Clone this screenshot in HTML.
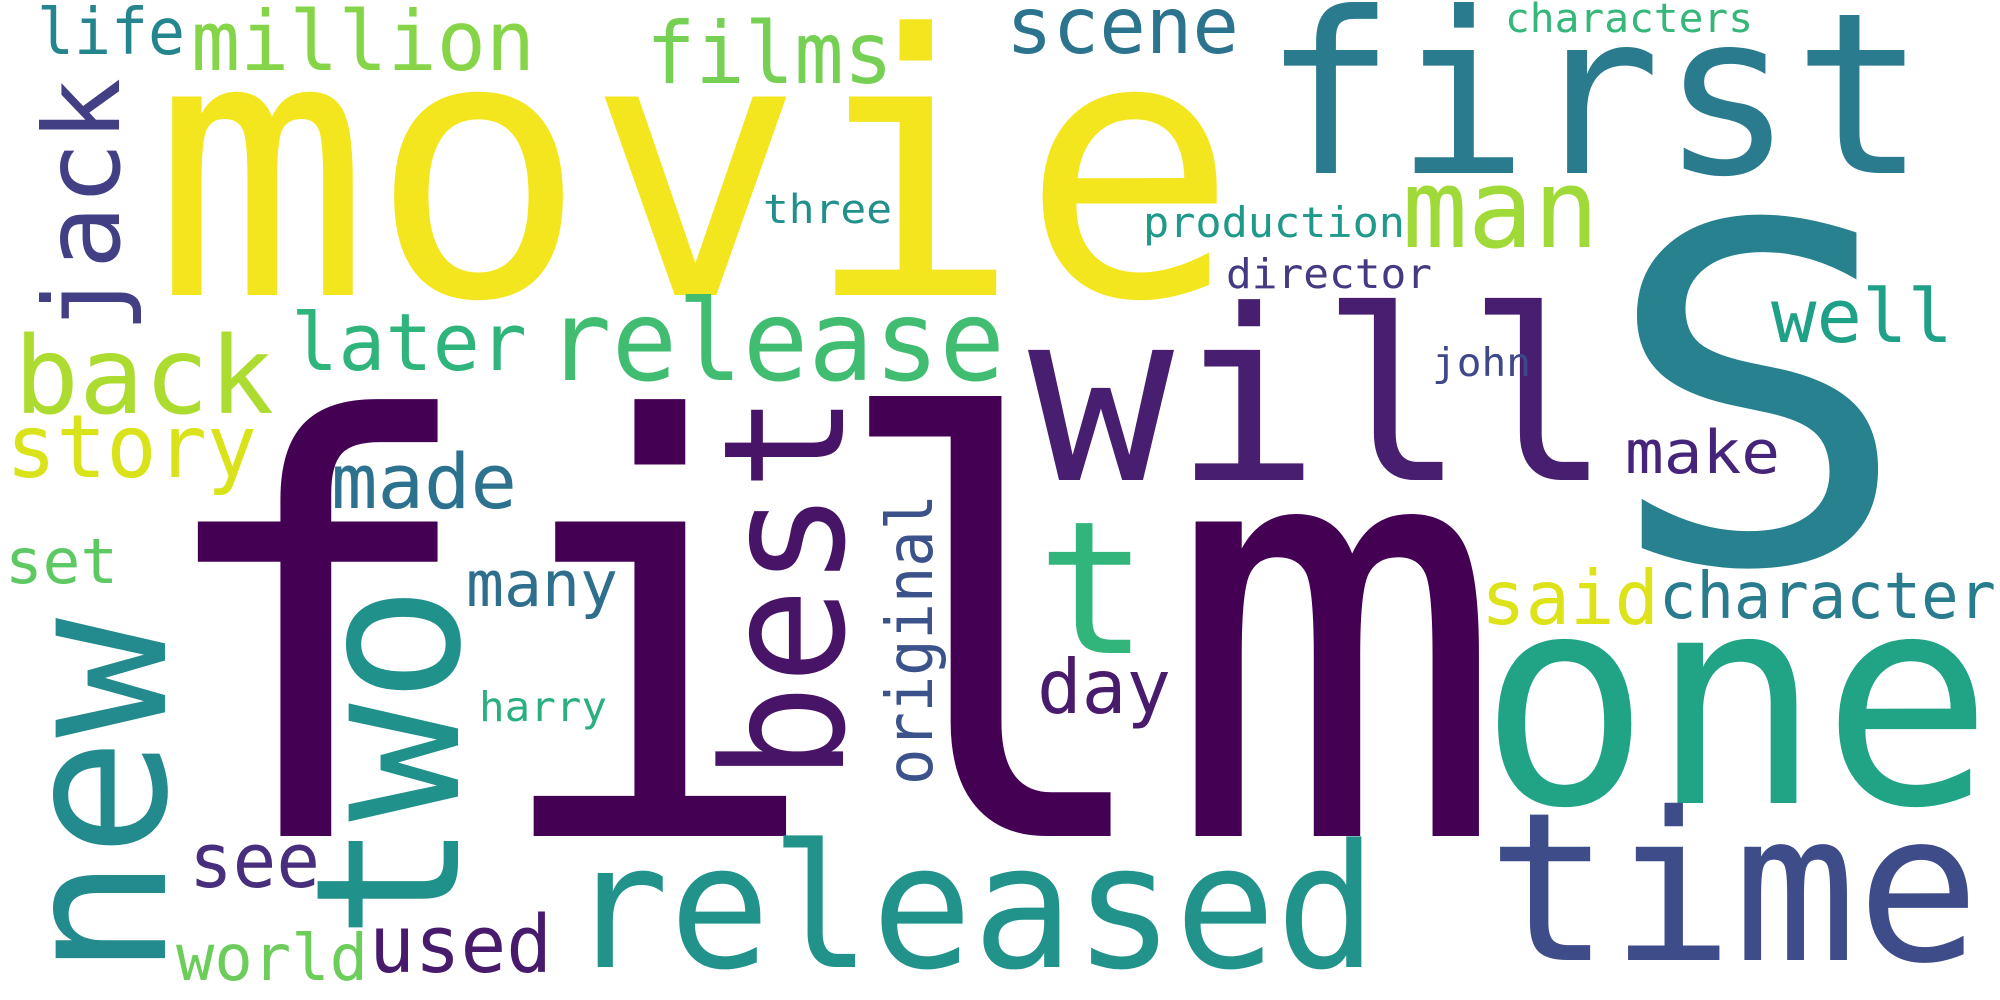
<!DOCTYPE html>
<html><head><meta charset="utf-8"><style>
html,body{margin:0;padding:0;background:#fff;}
svg{display:block;}
text{font-family:"DejaVu Sans Mono","Liberation Mono",monospace;}
</style></head><body>
<svg width="2000" height="1000" viewBox="0 0 2000 1000" xmlns="http://www.w3.org/2000/svg">
<rect width="2000" height="1000" fill="#ffffff"/>
<text x="144" y="836" font-size="575" fill="#440154" textLength="1362" lengthAdjust="spacingAndGlyphs">film</text>
<text x="153" y="295" font-size="363" fill="#f4e61e" textLength="1085" lengthAdjust="spacingAndGlyphs">movie</text>
<text x="1263" y="173" font-size="225" fill="#2a7b8e" textLength="663" lengthAdjust="spacingAndGlyphs">first</text>
<text x="1602" y="562" font-size="468" fill="#27818e" textLength="310" lengthAdjust="spacingAndGlyphs">S</text>
<text x="1028" y="480" font-size="238" fill="#481f70" textLength="584" lengthAdjust="spacingAndGlyphs">will</text>
<text x="1479" y="803" font-size="293" fill="#21a386" textLength="514" lengthAdjust="spacingAndGlyphs">one</text>
<text x="1487" y="960" font-size="207" fill="#3e4c89" textLength="493" lengthAdjust="spacingAndGlyphs">time</text>
<text x="568" y="967" font-size="172" fill="#21938b" textLength="809" lengthAdjust="spacingAndGlyphs">released</text>
<text x="1037" y="653" font-size="185" fill="#31b57b">t</text>
<text x="546" y="380" font-size="112" fill="#41bd72" textLength="459" lengthAdjust="spacingAndGlyphs">release</text>
<text x="1402" y="247" font-size="110" fill="#a0da39" textLength="197" lengthAdjust="spacingAndGlyphs">man</text>
<text x="14" y="413" font-size="107" fill="#addc30" textLength="260" lengthAdjust="spacingAndGlyphs">back</text>
<text x="6" y="477" font-size="87" fill="#dae319" textLength="251" lengthAdjust="spacingAndGlyphs">story</text>
<text x="37" y="54" font-size="64" fill="#25858e" textLength="148" lengthAdjust="spacingAndGlyphs">life</text>
<text x="191" y="70" font-size="83" fill="#86d549" textLength="344" lengthAdjust="spacingAndGlyphs">million</text>
<text x="646" y="83" font-size="86" fill="#75d054" textLength="247" lengthAdjust="spacingAndGlyphs">films</text>
<text x="291" y="370" font-size="79" fill="#2fb47c" textLength="236" lengthAdjust="spacingAndGlyphs">later</text>
<text x="763" y="223" font-size="40" fill="#21908d" textLength="129" lengthAdjust="spacingAndGlyphs">three</text>
<text x="331" y="508" font-size="76" fill="#2c728e" textLength="186" lengthAdjust="spacingAndGlyphs">made</text>
<text x="1006" y="53" font-size="78" fill="#2c738e" textLength="233" lengthAdjust="spacingAndGlyphs">scene</text>
<text x="1505" y="32" font-size="40" fill="#35b779" textLength="248" lengthAdjust="spacingAndGlyphs">characters</text>
<text x="1143" y="237" font-size="42" fill="#1f998a" textLength="262" lengthAdjust="spacingAndGlyphs">production</text>
<text x="1226" y="288" font-size="41" fill="#443a83" textLength="206" lengthAdjust="spacingAndGlyphs">director</text>
<text x="1771" y="342" font-size="74" fill="#1fa187" textLength="182" lengthAdjust="spacingAndGlyphs">well</text>
<text x="1432" y="376" font-size="39" fill="#3e4989" textLength="99" lengthAdjust="spacingAndGlyphs">john</text>
<text x="1625" y="473" font-size="60" fill="#46247a" textLength="155" lengthAdjust="spacingAndGlyphs">make</text>
<text x="5" y="583" font-size="62" fill="#5ec962" textLength="113" lengthAdjust="spacingAndGlyphs">set</text>
<text x="466" y="606" font-size="63" fill="#2e6f8e" textLength="152" lengthAdjust="spacingAndGlyphs">many</text>
<text x="479" y="721" font-size="41" fill="#2ab07f" textLength="128" lengthAdjust="spacingAndGlyphs">harry</text>
<text x="189" y="887" font-size="76" fill="#472f7d" textLength="131" lengthAdjust="spacingAndGlyphs">see</text>
<text x="176" y="980" font-size="64" fill="#6ccd5a" textLength="192" lengthAdjust="spacingAndGlyphs">world</text>
<text x="369" y="972" font-size="79" fill="#481a6c" textLength="183" lengthAdjust="spacingAndGlyphs">used</text>
<text x="1037" y="713" font-size="75" fill="#481b6d" textLength="134" lengthAdjust="spacingAndGlyphs">day</text>
<text x="1481" y="624" font-size="75" fill="#dde318" textLength="178" lengthAdjust="spacingAndGlyphs">said</text>
<text x="1659" y="618" font-size="64" fill="#297b8e" textLength="337" lengthAdjust="spacingAndGlyphs">character</text>
<text transform="translate(119,333) rotate(-90)" x="0" y="0" font-size="105" fill="#423f85" textLength="255" lengthAdjust="spacingAndGlyphs">jack</text>
<text transform="translate(165,977) rotate(-90)" x="0" y="0" font-size="200" fill="#238a8d" textLength="359" lengthAdjust="spacingAndGlyphs">new</text>
<text transform="translate(458,940) rotate(-90)" x="0" y="0" font-size="200" fill="#21918c" textLength="355" lengthAdjust="spacingAndGlyphs">two</text>
<text transform="translate(843,781) rotate(-90)" x="0" y="0" font-size="168" fill="#481467" textLength="387" lengthAdjust="spacingAndGlyphs">best</text>
<text transform="translate(932,785) rotate(-90)" x="0" y="0" font-size="64" fill="#3b528b" textLength="291" lengthAdjust="spacingAndGlyphs">original</text>
</svg>
</body></html>
